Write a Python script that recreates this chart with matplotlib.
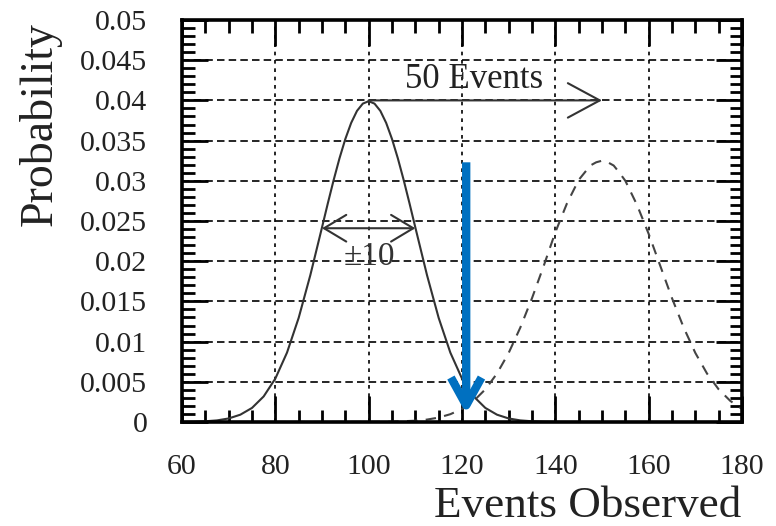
import matplotlib
matplotlib.use("Agg")
import matplotlib.pyplot as plt
from matplotlib.ticker import MultipleLocator

# ---- data ----
x_obs = [60, 62.5, 65, 67.5, 70, 72.5, 75, 77.5, 80, 82.5, 85, 87.5, 90, 91.25, 92.5,
         93.75, 95, 96.25, 97.5, 98.75, 100, 101.25, 102.5, 103.75, 105, 106.25, 107.5,
         108.75, 110, 112.5, 115, 117.5, 120, 122.5, 125, 127.5, 130,
         132.5, 135, 137.5, 140, 145]
p_obs = [0.00001, 0.00004, 0.00009, 0.0002, 0.00044, 0.00091, 0.00175, 0.00318, 0.0054,
         0.00863, 0.01295, 0.01827, 0.0242, 0.0272, 0.0301,
         0.0328, 0.0352, 0.0372, 0.0387, 0.0396, 0.0399, 0.0396, 0.0387, 0.0372, 0.0352,
         0.0328, 0.0301,
         0.0272, 0.0242, 0.01827, 0.01295, 0.00863, 0.0054,
         0.00318, 0.00175, 0.00091, 0.00044, 0.0002, 0.00009, 0.00004, 0.00001, 0.0]

x_alt = [60, 90, 100, 105, 110, 112.5, 115, 117.5, 120, 122.5, 125, 127.5, 130, 132.5,
         135, 137.5, 140, 142.5, 145, 146.25, 147.5, 148.75, 150, 151.25, 152.5, 153.75,
         155, 157.5, 160, 162.5, 165, 167.5, 170, 172.5, 175, 177.5, 180]
p_alt = [0.0, 0.0, 0.00001, 0.00004, 0.00016, 0.0003, 0.00055, 0.00097, 0.00162, 0.00262,
         0.00406, 0.00603, 0.00859, 0.01175, 0.0154, 0.0194, 0.0236, 0.0272, 0.0301,
         0.0310, 0.0319, 0.0323, 0.0325, 0.0323, 0.0319, 0.0310,
         0.0300, 0.0270, 0.0234, 0.0194, 0.0154, 0.01175,
         0.00859, 0.00603, 0.00406, 0.00262, 0.00162]

x_ticks = [60, 80, 100, 120, 140, 160, 180]
y_ticks = [0, 0.005, 0.01, 0.015, 0.02, 0.025, 0.03, 0.035, 0.04, 0.045, 0.05]
y_tick_labels = ["0", "0.005", "0.01", "0.015", "0.02", "0.025", "0.03", "0.035",
                 "0.04", "0.045", "0.05"]

shift_start, shift_end, shift_level = 100, 150, 0.04
sigma_lo, sigma_hi, sigma_level = 90, 110, 0.0241
obs_x, obs_top, obs_bottom = 120.9, 0.0323, 0.0010

plt.rcParams['font.family'] = ['Liberation Serif', 'DejaVu Serif']

fig = plt.figure(figsize=(7.76, 5.26), dpi=100)
ax = fig.add_axes([182 / 776, 1 - 422 / 526, 560 / 776, 402 / 526])

ax.set_xlim(60, 180)
ax.set_ylim(0, 0.05)

# grid
for yv in y_ticks[1:-1]:
    ax.axhline(yv, color='black', lw=1.2, linestyle=(0, (4.5, 2.5)), zorder=1)
for xv in x_ticks[1:-1]:
    ax.axvline(xv, color='black', lw=1.2, linestyle=(0, (2.2, 2.8)), zorder=1)

ax.plot(x_obs, p_obs, color='#333333', lw=1.5, zorder=3)
ax.plot(x_alt, p_alt, color='#444444', lw=1.5, linestyle=(0, (5, 4)), zorder=3)

# 50 Events arrow
ax.annotate("", xy=(shift_end, shift_level), xytext=(shift_start, shift_level),
            arrowprops=dict(arrowstyle='->,head_length=1.15,head_width=0.62',
                            mutation_scale=20, color='#333333', lw=1.5,
                            shrinkA=0, shrinkB=0), zorder=4)
ax.text(122.5, 0.0426, "50 Events", fontsize=25, color='#222222', ha='center',
        va='center', zorder=5)

# +-10 arrow
ax.annotate("", xy=(sigma_hi, sigma_level), xytext=(sigma_lo, sigma_level),
            arrowprops=dict(arrowstyle='<->,head_length=0.8,head_width=0.48',
                            mutation_scale=20, color='#333333', lw=1.5,
                            shrinkA=0, shrinkB=0), zorder=4)
ax.text(100.2, 0.0206, "\u00b110", fontsize=24, color='#333333', ha='center', va='center',
        zorder=5)

# blue observation arrow
ax.annotate("", xy=(obs_x, obs_bottom), xytext=(obs_x, obs_top),
            arrowprops=dict(arrowstyle='->,head_length=1.0,head_width=0.55',
                            mutation_scale=20, color='#0070C0', lw=6,
                            shrinkA=0, shrinkB=0, capstyle='butt', joinstyle='round'),
            zorder=6)

# ticks
ax.set_xticks(x_ticks)
ax.set_yticks(y_ticks)
ax.set_yticklabels(y_tick_labels)
ax.xaxis.set_minor_locator(MultipleLocator(5))
ax.yaxis.set_minor_locator(MultipleLocator(0.001))
ax.tick_params(which='both', direction='in', top=True, right=True, color='black')
ax.tick_params(which='major', length=19, width=2, labelsize=21.5, labelcolor='#222222')
ax.tick_params(axis='x', which='major', pad=23)
ax.tick_params(axis='y', which='major', pad=25)
ax.tick_params(which='minor', length=9, width=2)
for s in ax.spines.values():
    s.set_linewidth(2.6)
    s.set_zorder(7)

fig.text(40 / 776, 1 - 124 / 526, "Probability", rotation=90, fontsize=33,
         color='#222222', ha='center', va='center')
fig.text(741 / 776, 1 - 506 / 526, "Events Observed", fontsize=32.5,
         color='#222222', ha='right', va='center')

fig.savefig("out.png", dpi=100)
